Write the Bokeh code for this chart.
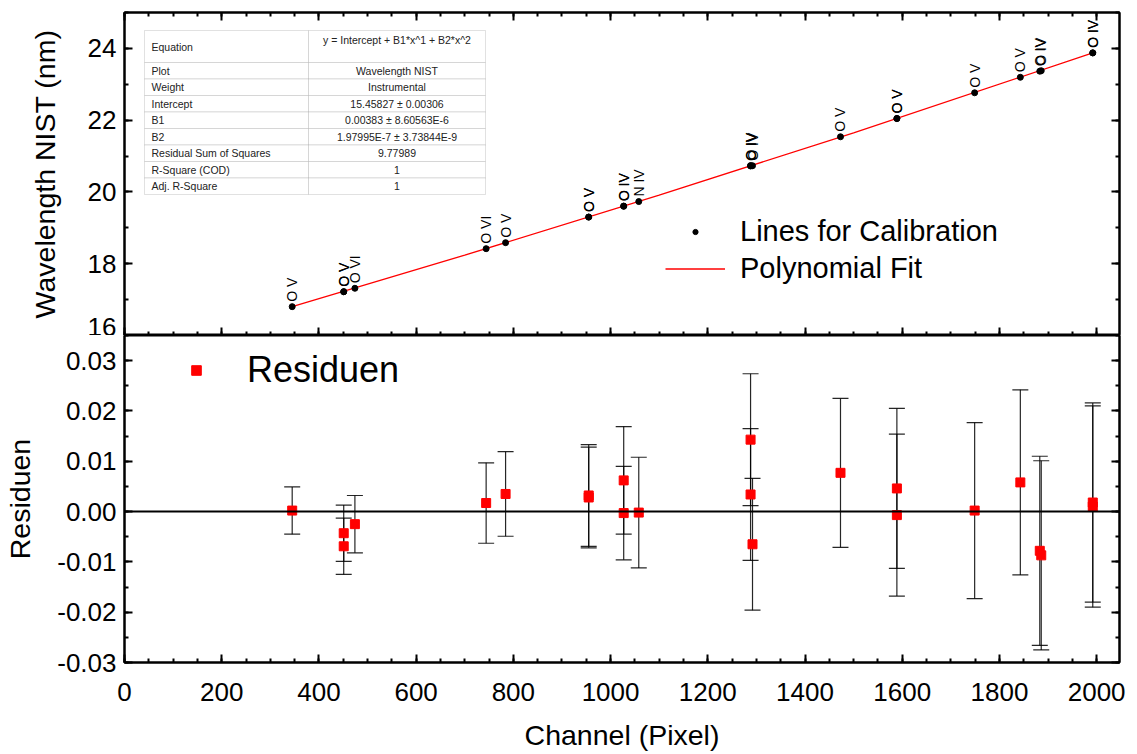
import math
from bokeh.plotting import figure
from bokeh.models import (ColumnDataSource, Whisker, TeeHead, Span, Legend, LegendItem,
                          LinearAxis, SingleIntervalTicker, Range1d, BoxAnnotation, Label,
                          PrintfTickFormatter, CustomJSTickFormatter)
from bokeh.layouts import column
from bokeh.embed import file_html
from bokeh.resources import INLINE
from bokeh.core.properties import value

FONT = "Liberation Sans"

# ---------------- data ----------------
channel = [345, 451, 451, 474, 744, 784, 955, 955, 1027, 1027, 1058, 1288, 1288, 1292,
           1473, 1589, 1589, 1749, 1843, 1883, 1886, 1992, 1992]
wavelength = [16.8034, 17.2216, 17.2190, 17.3157, 18.4191, 18.5862, 19.2997, 19.2993,
              19.6067, 19.6002, 19.7318, 20.7341, 20.7232, 20.7306, 21.5372, 22.0487,
              22.0434, 22.7628, 23.1953, 23.3644, 23.3772, 23.8751, 23.8743]
ion = ["O V", "O V", "O V", "O VI", "O VI", "O V", "O V", "O V", "O IV", "O IV", "N IV",
       "O IV", "O IV", "O IV", "O V", "O V", "O V", "O V", "O V", "O IV", "O IV", "O IV", "O IV"]
residual = [0.0002, -0.0043, -0.0069, -0.0025, 0.0017, 0.0035, 0.0032, 0.0028, 0.0062,
            -0.0003, -0.0002, 0.0143, 0.0034, -0.0065, 0.0077, 0.0046, -0.0007, 0.0002,
            0.0058, -0.0078, -0.0087, 0.0018, 0.0010]
res_error = [0.0047, 0.0056, 0.0056, 0.0057, 0.0080, 0.0084, 0.0101, 0.0100, 0.0107,
             0.0093, 0.0110, 0.0131, 0.0131, 0.0131, 0.0148, 0.0159, 0.0161, 0.0175,
             0.0184, 0.0188, 0.0188, 0.0198, 0.0200]
fit_channel = [345, 700, 1100, 1500, 1992]
fit_wavelength = [16.8032, 18.2363, 19.9108, 21.6488, 23.8733]

table_keys = ["Equation", "Plot", "Weight", "Intercept", "B1", "B2",
              "Residual Sum of Squares", "R-Square (COD)", "Adj. R-Square"]
table_vals = ["y = Intercept + B1*x^1 + B2*x^2", "Wavelength NIST", "Instrumental",
              "15.45827 \u00b1 0.00306", "0.00383 \u00b1 8.60563E-6",
              "1.97995E-7 \u00b1 3.73844E-9", "9.77989", "1", "1"]

# ---------------- layout ----------------
W = 1133
FL, FR = 124, 14
x_range = Range1d(0, 2047)


def style_axis(ax, show_labels=True, font_size="26px", standoff=20, label_standoff=8):
    ax.axis_line_width = 2
    ax.axis_line_color = "black"
    ax.major_tick_in = 8
    ax.major_tick_out = 0
    ax.minor_tick_in = 4
    ax.minor_tick_out = 0
    ax.major_tick_line_width = 2
    ax.minor_tick_line_width = 2
    ax.major_tick_line_color = "black"
    ax.minor_tick_line_color = "black"
    ax.major_label_text_font = FONT
    ax.major_label_text_color = "black"
    ax.axis_label_text_font = FONT
    ax.axis_label_text_font_style = "normal"
    ax.axis_label_text_color = "black"
    ax.axis_label_text_font_size = "28.5px"
    ax.axis_label_standoff = standoff
    if show_labels:
        ax.major_label_text_font_size = font_size
        ax.major_label_standoff = label_standoff
    else:
        ax.formatter = CustomJSTickFormatter(code="return ''")
        ax.major_label_text_font_size = "0px"
        ax.major_label_standoff = 0
        ax.axis_label = None


def x_ticker():
    return SingleIntervalTicker(interval=200, num_minor_ticks=4)


# ---------------- top panel ----------------
p1 = figure(width=W, height=335, x_range=x_range, y_range=Range1d(16, 25),
            output_backend="svg", toolbar_location=None,
            min_border_left=FL, min_border_right=FR, min_border_top=12, min_border_bottom=0,
            y_axis_label="Wavelength NIST (nm)")
p1.grid.visible = False
p1.outline_line_color = "black"
p1.outline_line_width = 2
p1.background_fill_color = "white"
p1.border_fill_color = "white"

p1.xaxis[0].ticker = x_ticker()
style_axis(p1.xaxis[0], show_labels=False)
p1.yaxis[0].ticker = SingleIntervalTicker(interval=2, num_minor_ticks=2)
style_axis(p1.yaxis[0], standoff=24)
ax_top = LinearAxis(ticker=x_ticker())
style_axis(ax_top, show_labels=False)
p1.add_layout(ax_top, "above")
ax_r1 = LinearAxis(ticker=SingleIntervalTicker(interval=2, num_minor_ticks=2))
style_axis(ax_r1, show_labels=False)
p1.add_layout(ax_r1, "right")

src = ColumnDataSource(dict(channel=channel, wavelength=wavelength, ion=ion,
                            residual=residual,
                            upper=[r + e for r, e in zip(residual, res_error)],
                            lower=[r - e for r, e in zip(residual, res_error)]))

fit_r = p1.line(fit_channel, fit_wavelength, line_color="red", line_width=1.3)
pts_r = p1.scatter("channel", "wavelength", source=src, size=6, color="black")
p1.text(x="channel", y="wavelength", text="ion", source=src, angle=math.pi / 2,
        text_align="left", text_baseline="middle", y_offset=-5,
        text_font=value(FONT), text_font_size="14px", text_color="black")

leg1 = Legend(items=[LegendItem(label="Lines for Calibration", renderers=[pts_r]),
                     LegendItem(label="Polynomial Fit", renderers=[fit_r])],
              location=(541, 50), orientation="vertical",
              background_fill_alpha=0, border_line_alpha=0, padding=0, margin=0,
              label_text_font=FONT, label_text_font_size="29px", label_text_color="black",
              glyph_width=60, glyph_height=13, label_height=30, spacing=4, label_standoff=15)
p1.add_layout(leg1)

# fit result table (screen units relative to the frame)
T_LEFT, T_MID, T_RIGHT, T_TOP = 20, 184, 361, 305
ROW0, ROW = 32, 16.5
TCOL = "#9a9a9a"
tops = [T_TOP]
for i in range(len(table_keys)):
    h = ROW0 if i == 0 else ROW
    tops.append(tops[-1] - h)
for i, (k, v) in enumerate(zip(table_keys, table_vals)):
    top, bottom = tops[i], tops[i + 1]
    for l, r in ((T_LEFT, T_MID), (T_MID, T_RIGHT)):
        p1.add_layout(BoxAnnotation(left=l, right=r, top=top, bottom=bottom,
                                    left_units="screen", right_units="screen",
                                    top_units="screen", bottom_units="screen",
                                    fill_color="white", fill_alpha=1,
                                    line_color=TCOL, line_width=1, level="overlay"))
    mid_y = (top + bottom) / 2
    p1.add_layout(Label(x=T_LEFT + 7, y=mid_y, x_units="screen", y_units="screen",
                        text=k, text_font=FONT, text_font_size="10.5px",
                        text_color="#222222", text_align="left", text_baseline="middle",
                        level="overlay"))
    vy = top - 9 if i == 0 else mid_y
    p1.add_layout(Label(x=(T_MID + T_RIGHT) / 2, y=vy, x_units="screen", y_units="screen",
                        text=v, text_font=FONT, text_font_size="10.5px",
                        text_color="#222222", text_align="center", text_baseline="middle",
                        level="overlay"))

# ---------------- bottom panel ----------------
p2 = figure(width=W, height=419, x_range=x_range, y_range=Range1d(-0.03, 0.035),
            output_backend="svg", toolbar_location=None,
            min_border_left=FL, min_border_right=FR, min_border_top=0, min_border_bottom=92,
            x_axis_label="Channel (Pixel)", y_axis_label="Residuen")
p2.grid.visible = False
p2.outline_line_color = "black"
p2.outline_line_width = 2
p2.background_fill_color = "white"
p2.border_fill_color = "white"

p2.xaxis[0].ticker = x_ticker()
style_axis(p2.xaxis[0], standoff=15, label_standoff=20)
p2.yaxis[0].ticker = SingleIntervalTicker(interval=0.01, num_minor_ticks=2)
p2.yaxis[0].formatter = PrintfTickFormatter(format="%.2f")
style_axis(p2.yaxis[0], standoff=18)
ax_r2 = LinearAxis(ticker=SingleIntervalTicker(interval=0.01, num_minor_ticks=2))
style_axis(ax_r2, show_labels=False)
p2.add_layout(ax_r2, "right")

p2.add_layout(Span(location=0, dimension="width", line_color="black", line_width=2))
p2.add_layout(Whisker(base="channel", upper="upper", lower="lower", source=src,
                      line_color="black", line_width=1.2, line_alpha=0.85,
                      upper_head=TeeHead(size=16, line_color="black", line_width=1.2, line_alpha=0.85),
                      lower_head=TeeHead(size=16, line_color="black", line_width=1.2, line_alpha=0.85)))
sq_r = p2.scatter("channel", "residual", source=src, marker="square", size=9, color="red")

leg2 = Legend(items=[LegendItem(label="Residuen", renderers=[sq_r])],
              location=(52, 271), background_fill_alpha=0, border_line_alpha=0,
              padding=0, margin=0, label_text_font=FONT, label_text_font_size="36px",
              label_text_color="black", glyph_width=40, glyph_height=24, label_height=40,
              label_standoff=31)
p2.add_layout(leg2)

layout = column(p1, p2, spacing=0)
open("out.html", "w").write(file_html(layout, INLINE))
